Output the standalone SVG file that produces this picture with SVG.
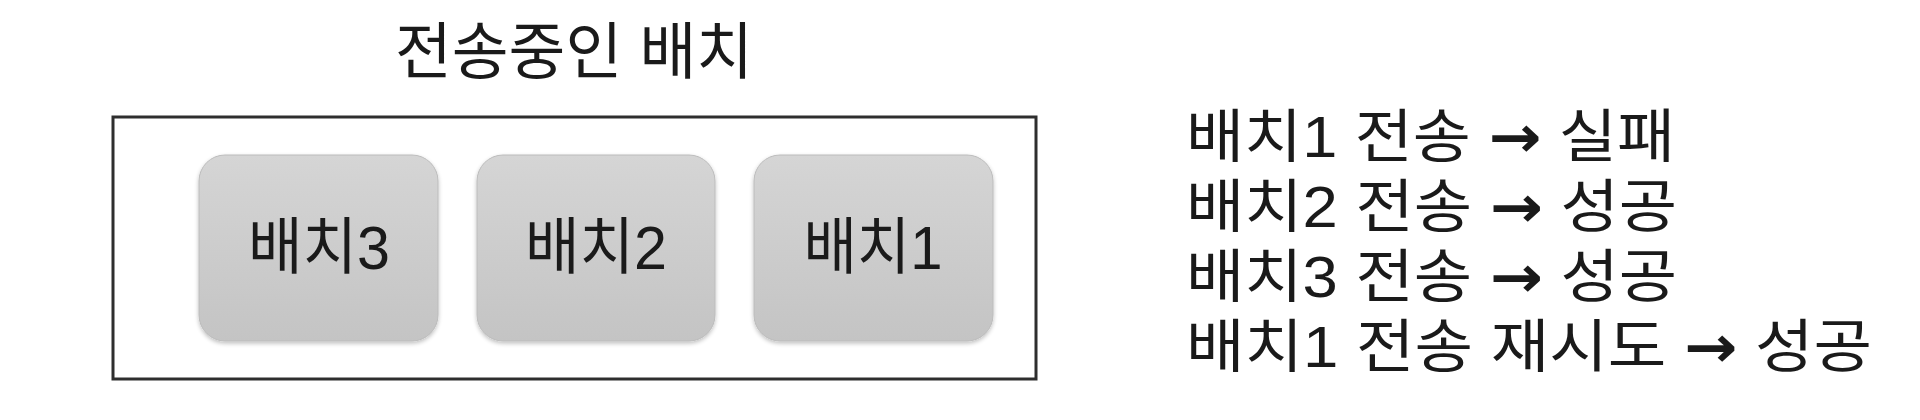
<svg xmlns="http://www.w3.org/2000/svg" width="1920" height="420" viewBox="0 0 1920 420">
  <style>
    text { font-family: "Liberation Sans", "Noto Sans CJK KR", sans-serif; fill: #1a1a1a; }
    .title { font-size: 62px; }
    .label { font-size: 62px; }
    .log { font-size: 58px; }
    .arrow { font-family: "DejaVu Sans", sans-serif; font-weight: bold; }
    .batch { fill: url(#boxGrad); stroke: #bcbcbc; stroke-width: 1; filter: url(#shadow); }
    .frame { fill: #ffffff; stroke: #2e2e2e; stroke-width: 3; }
  </style>
  <defs>
    <linearGradient id="boxGrad" x1="0" y1="0" x2="0" y2="1">
      <stop offset="0" stop-color="#d5d5d5"/>
      <stop offset="1" stop-color="#c4c4c4"/>
    </linearGradient>
    <filter id="shadow" x="-10%" y="-10%" width="120%" height="125%">
      <feGaussianBlur in="SourceAlpha" stdDeviation="2"/>
      <feOffset dx="0" dy="2" result="b"/>
      <feComponentTransfer><feFuncA type="linear" slope="0.25"/></feComponentTransfer>
      <feMerge><feMergeNode/><feMergeNode in="SourceGraphic"/></feMerge>
    </filter>
  </defs>
  <rect width="1920" height="420" fill="#ffffff"/>

  <g id="title">
    <text class="title" x="574" y="74" text-anchor="middle" textLength="358" lengthAdjust="spacingAndGlyphs">전송중인 배치</text>
  </g>

  <g id="queue">
    <rect class="frame" x="113" y="117" width="923" height="262"/>
  </g>

  <g id="batch3">
    <rect class="batch" x="199" y="155" width="239" height="186" rx="26" ry="26"/>
    <text class="label" x="319" y="269" text-anchor="middle" textLength="142" lengthAdjust="spacingAndGlyphs">배치3</text>
  </g>
  <g id="batch2">
    <rect class="batch" x="477" y="155" width="238" height="186" rx="26" ry="26"/>
    <text class="label" x="596" y="269" text-anchor="middle" textLength="142" lengthAdjust="spacingAndGlyphs">배치2</text>
  </g>
  <g id="batch1">
    <rect class="batch" x="754" y="155" width="239" height="186" rx="26" ry="26"/>
    <text class="label" x="873" y="269" text-anchor="middle" textLength="139" lengthAdjust="spacingAndGlyphs">배치1</text>
  </g>

  <g id="connectors"></g>

  <g id="log">
    <text class="log" x="1186" y="157" textLength="489" lengthAdjust="spacingAndGlyphs">배치1 전송 <tspan class="arrow">→</tspan> 실패</text>
    <text class="log" x="1186" y="227" textLength="491" lengthAdjust="spacingAndGlyphs">배치2 전송 <tspan class="arrow">→</tspan> 성공</text>
    <text class="log" x="1186" y="297" textLength="491" lengthAdjust="spacingAndGlyphs">배치3 전송 <tspan class="arrow">→</tspan> 성공</text>
    <text class="log" x="1186" y="367" textLength="686" lengthAdjust="spacingAndGlyphs">배치1 전송 재시도 <tspan class="arrow">→</tspan> 성공</text>
  </g>
</svg>
